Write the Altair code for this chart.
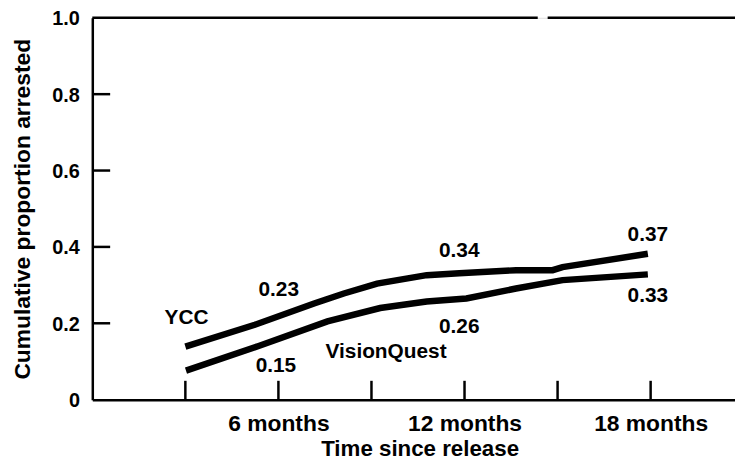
import altair as alt
import pandas as pd

# ---- data ----
ycc_months = [3.0, 5.24, 7.15, 8.11, 9.18, 10.78, 11.83, 13.66, 14.84, 15.16, 17.91]
ycc_values = [0.139, 0.196, 0.252, 0.278, 0.304, 0.326, 0.331, 0.339, 0.339, 0.347, 0.382]
vq_months = [3.02, 5.34, 7.58, 9.28, 10.78, 12.06, 13.66, 15.16, 17.91]
vq_values = [0.076, 0.140, 0.205, 0.240, 0.257, 0.265, 0.291, 0.313, 0.328]

value_labels = ["0.23", "0.15", "0.34", "0.26", "0.37", "0.33"]
value_label_x = [6.01, 5.92, 11.83, 11.83, 17.91, 17.91]
value_label_y = [0.287, 0.088, 0.390, 0.191, 0.432, 0.271]

series_names = ["YCC", "VisionQuest"]
series_name_x = [2.33, 9.47]
series_name_y = [0.214, 0.125]

x_tick_months = [3, 6, 9, 12, 15, 18]
x_label_months = [6, 12, 18]
y_ticks = [0.2, 0.4, 0.6, 0.8]
y_labels = [0, 0.2, 0.4, 0.6, 0.8, 1.0]
top_frame_start = [0, 14.68]
top_frame_end = [14.36, 20.72]

X_MAX = 20.72
W, H = 648, 385
FONT = "Liberation Sans"

lines_df = pd.DataFrame({
    "month": ycc_months + vq_months,
    "value": ycc_values + vq_values,
    "series": ["YCC"] * len(ycc_months) + ["VisionQuest"] * len(vq_months),
})
vlab_df = pd.DataFrame({"text": value_labels, "x": value_label_x, "y": value_label_y})
ycc_name_df = pd.DataFrame({"text": series_names[:1], "x": series_name_x[:1], "y": series_name_y[:1]})
vq_name_df = pd.DataFrame({"text": series_names[1:], "x": series_name_x[1:], "y": series_name_y[1:]})
xt_df = pd.DataFrame({"m": x_tick_months})
yt_df = pd.DataFrame({"v": y_ticks})
frame_df = pd.DataFrame({"a": top_frame_start, "b": top_frame_end})

xscale = alt.Scale(domain=[0, X_MAX], nice=False, zero=False)
yscale = alt.Scale(domain=[0, 1], nice=False)

base_axis_x = alt.Axis(
    values=x_label_months, labelExpr="datum.value + ' months'", ticks=False, grid=False,
    domainColor="black", domainWidth=2.5, labelFont=FONT, labelFontWeight="bold",
    labelFontSize=23, labelColor="black", labelPadding=13,
    title="Time since release", titleFont=FONT, titleFontWeight="bold", titleFontSize=22.5,
    titleColor="black", titleX=330, titleY=56, titleBaseline="alphabetic", titleAnchor="start",
    titleAlign="center",
)
base_axis_y = alt.Axis(
    values=y_labels, labelExpr="datum.value == 0 ? '0' : format(datum.value, '.1f')",
    ticks=False, grid=False, domainColor="black", domainWidth=2.5, labelFont=FONT,
    labelFontWeight="bold", labelFontSize=20, labelColor="black", labelPadding=13,
    labelOffset=1,
    title="Cumulative proportion arrested", titleFont=FONT, titleFontWeight="bold",
    titleFontSize=23, titleColor="black", titleX=-70, titleY=H / 2, titleAngle=270,
    titleBaseline="middle", titleAlign="center", titleAnchor="start",
)

lines = alt.Chart(lines_df).mark_line(color="black", strokeWidth=6.5, strokeCap="butt").encode(
    x=alt.X("month:Q", scale=xscale, axis=base_axis_x),
    y=alt.Y("value:Q", scale=yscale, axis=base_axis_y),
    detail="series:N",
)

text_style = dict(font=FONT, fontWeight="bold", fontSize=21, color="black", baseline="middle")

vlabels = alt.Chart(vlab_df).mark_text(align="center", **text_style).encode(
    x=alt.X("x:Q", scale=xscale), y=alt.Y("y:Q", scale=yscale), text="text:N")
ycc_name = alt.Chart(ycc_name_df).mark_text(align="left", **text_style).encode(
    x=alt.X("x:Q", scale=xscale), y=alt.Y("y:Q", scale=yscale), text="text:N")
vq_name = alt.Chart(vq_name_df).mark_text(align="center", **text_style).encode(
    x=alt.X("x:Q", scale=xscale), y=alt.Y("y:Q", scale=yscale), text="text:N")

xticks = alt.Chart(xt_df).mark_rule(color="black", strokeWidth=2.5).encode(
    x=alt.X("m:Q", scale=xscale), y=alt.value(H), y2=alt.value(H - 19))
yticks = alt.Chart(yt_df).mark_rule(color="black", strokeWidth=2.5).encode(
    y=alt.Y("v:Q", scale=yscale), x=alt.value(0), x2=alt.value(18))
frame = alt.Chart(frame_df).mark_rule(color="black", strokeWidth=2.5).encode(
    x=alt.X("a:Q", scale=xscale), x2="b:Q", y=alt.value(0))

chart = alt.layer(lines, xticks, yticks, frame, vlabels, ycc_name, vq_name).properties(
    width=W, height=H, autosize=alt.AutoSizeParams(type="none"),
    padding={"left": 85, "top": 8, "right": 0, "bottom": 63},
).configure_view(stroke=None).configure(background="white")

chart.save("out.html", embed_options={"renderer": "svg", "actions": False})
